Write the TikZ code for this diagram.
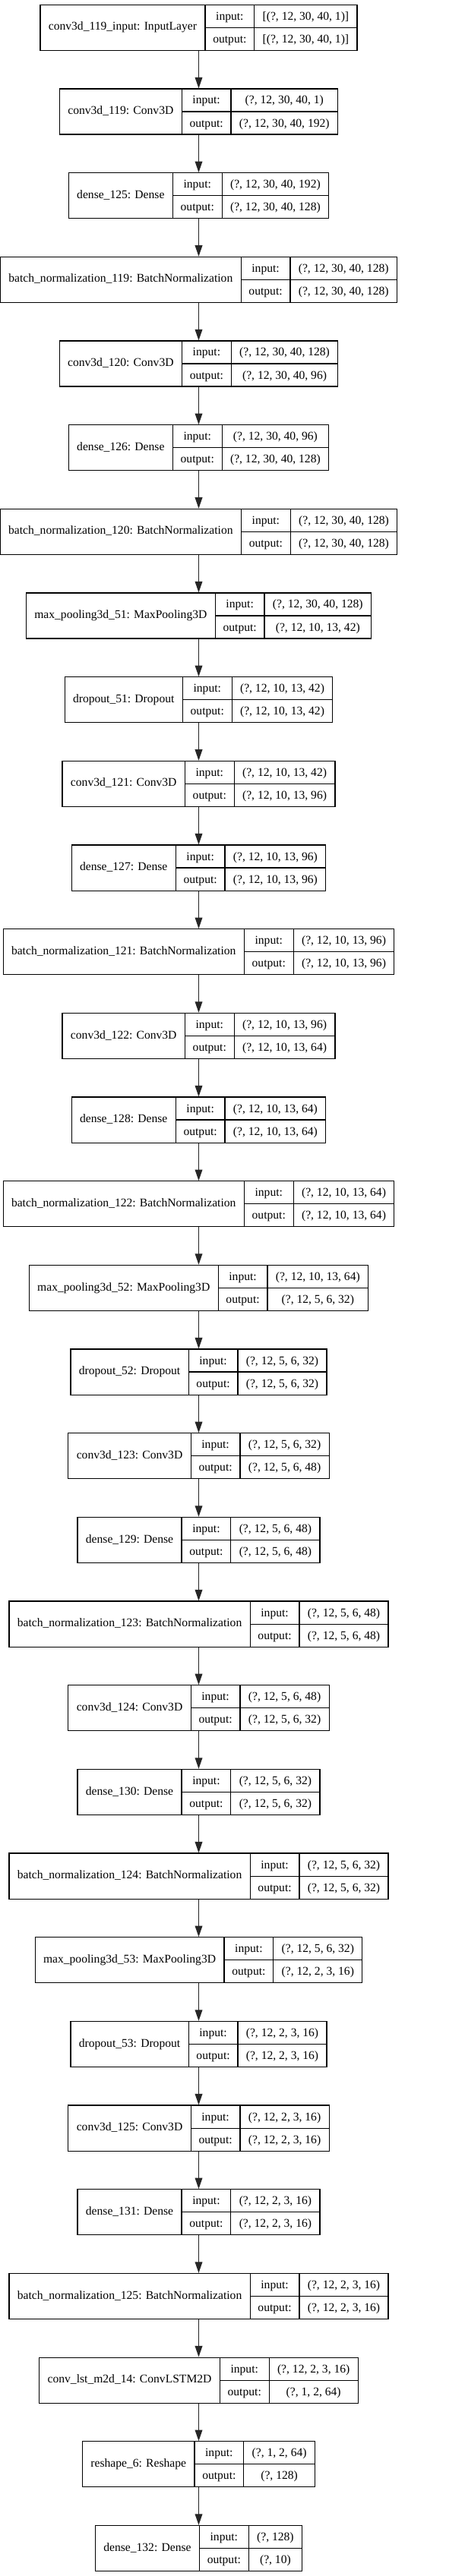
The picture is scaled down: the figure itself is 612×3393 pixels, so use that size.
\documentclass[tikz,border=0pt]{standalone}
\usepackage{fontspec}
\setmainfont{Liberation Serif}
\usepackage{tikz, array}
\usetikzlibrary{arrows.meta}
\usetikzlibrary{positioning}
\tikzset{node distance=49.37pt, auto}

\setlength{\arrayrulewidth}{1.2pt}
\setlength{\tabcolsep}{10.3pt}
\newcommand{\rowstrut}{\rule[-9.45pt]{0pt}{28.85pt}}
\newcommand{\layerbox}[3]{{\renewcommand{\arraystretch}{0}%
\begin{tabular}{|c|@{}c@{}|}
\hline
#1 &
\begin{tabular}{c|c}
\rowstrut\makebox[43pt]{input:} & #2 \\ \hline
\rowstrut\makebox[43pt]{output:} & #3
\end{tabular} \\
\hline
\end{tabular}}}

\begin{document}
\begin{tikzpicture}
\tikzset{
  layer/.style={inner sep=0pt, outer sep=0pt, font=\fontsize{15.6pt}{18pt}\selectfont},
  flow/.style={line width=1.2pt, draw=black!85, -{Triangle[length=14.5pt, width=9.7pt]}}
}

\useasboundingbox (0,0) rectangle (612pt,-3393pt);

\node[layer] (in119) at (261.5pt,-36.35pt) {\layerbox{conv3d\_119\_input: InputLayer}{[(?, 12, 30, 40, 1)]}{[(?, 12, 30, 40, 1)]}};
\node[layer, below=of in119] (c119) {\layerbox{conv3d\_119: Conv3D}{(?, 12, 30, 40, 1)}{(?, 12, 30, 40, 192)}};
\node[layer, below=of c119] (d125) {\layerbox{dense\_125: Dense}{(?, 12, 30, 40, 192)}{(?, 12, 30, 40, 128)}};
\node[layer, below=of d125] (bn119) {\layerbox{batch\_normalization\_119: BatchNormalization}{(?, 12, 30, 40, 128)}{(?, 12, 30, 40, 128)}};
\node[layer, below=of bn119] (c120) {\layerbox{conv3d\_120: Conv3D}{(?, 12, 30, 40, 128)}{(?, 12, 30, 40, 96)}};
\node[layer, below=of c120] (d126) {\layerbox{dense\_126: Dense}{(?, 12, 30, 40, 96)}{(?, 12, 30, 40, 128)}};
\node[layer, below=of d126] (bn120) {\layerbox{batch\_normalization\_120: BatchNormalization}{(?, 12, 30, 40, 128)}{(?, 12, 30, 40, 128)}};
\node[layer, below=of bn120] (mp51) {\layerbox{max\_pooling3d\_51: MaxPooling3D}{(?, 12, 30, 40, 128)}{(?, 12, 10, 13, 42)}};
\node[layer, below=of mp51] (do51) {\layerbox{dropout\_51: Dropout}{(?, 12, 10, 13, 42)}{(?, 12, 10, 13, 42)}};
\node[layer, below=of do51] (c121) {\layerbox{conv3d\_121: Conv3D}{(?, 12, 10, 13, 42)}{(?, 12, 10, 13, 96)}};
\node[layer, below=of c121] (d127) {\layerbox{dense\_127: Dense}{(?, 12, 10, 13, 96)}{(?, 12, 10, 13, 96)}};
\node[layer, below=of d127] (bn121) {\layerbox{batch\_normalization\_121: BatchNormalization}{(?, 12, 10, 13, 96)}{(?, 12, 10, 13, 96)}};
\node[layer, below=of bn121] (c122) {\layerbox{conv3d\_122: Conv3D}{(?, 12, 10, 13, 96)}{(?, 12, 10, 13, 64)}};
\node[layer, below=of c122] (d128) {\layerbox{dense\_128: Dense}{(?, 12, 10, 13, 64)}{(?, 12, 10, 13, 64)}};
\node[layer, below=of d128] (bn122) {\layerbox{batch\_normalization\_122: BatchNormalization}{(?, 12, 10, 13, 64)}{(?, 12, 10, 13, 64)}};
\node[layer, below=of bn122] (mp52) {\layerbox{max\_pooling3d\_52: MaxPooling3D}{(?, 12, 10, 13, 64)}{(?, 12, 5, 6, 32)}};
\node[layer, below=of mp52] (do52) {\layerbox{dropout\_52: Dropout}{(?, 12, 5, 6, 32)}{(?, 12, 5, 6, 32)}};
\node[layer, below=of do52] (c123) {\layerbox{conv3d\_123: Conv3D}{(?, 12, 5, 6, 32)}{(?, 12, 5, 6, 48)}};
\node[layer, below=of c123] (d129) {\layerbox{dense\_129: Dense}{(?, 12, 5, 6, 48)}{(?, 12, 5, 6, 48)}};
\node[layer, below=of d129] (bn123) {\layerbox{batch\_normalization\_123: BatchNormalization}{(?, 12, 5, 6, 48)}{(?, 12, 5, 6, 48)}};
\node[layer, below=of bn123] (c124) {\layerbox{conv3d\_124: Conv3D}{(?, 12, 5, 6, 48)}{(?, 12, 5, 6, 32)}};
\node[layer, below=of c124] (d130) {\layerbox{dense\_130: Dense}{(?, 12, 5, 6, 32)}{(?, 12, 5, 6, 32)}};
\node[layer, below=of d130] (bn124) {\layerbox{batch\_normalization\_124: BatchNormalization}{(?, 12, 5, 6, 32)}{(?, 12, 5, 6, 32)}};
\node[layer, below=of bn124] (mp53) {\layerbox{max\_pooling3d\_53: MaxPooling3D}{(?, 12, 5, 6, 32)}{(?, 12, 2, 3, 16)}};
\node[layer, below=of mp53] (do53) {\layerbox{dropout\_53: Dropout}{(?, 12, 2, 3, 16)}{(?, 12, 2, 3, 16)}};
\node[layer, below=of do53] (c125) {\layerbox{conv3d\_125: Conv3D}{(?, 12, 2, 3, 16)}{(?, 12, 2, 3, 16)}};
\node[layer, below=of c125] (d131) {\layerbox{dense\_131: Dense}{(?, 12, 2, 3, 16)}{(?, 12, 2, 3, 16)}};
\node[layer, below=of d131] (bn125) {\layerbox{batch\_normalization\_125: BatchNormalization}{(?, 12, 2, 3, 16)}{(?, 12, 2, 3, 16)}};
\node[layer, below=of bn125] (lstm14) {\layerbox{conv\_lst\_m2d\_14: ConvLSTM2D}{(?, 12, 2, 3, 16)}{(?, 1, 2, 64)}};
\node[layer, below=of lstm14] (rs6) {\layerbox{reshape\_6: Reshape}{(?, 1, 2, 64)}{(?, 128)}};
\node[layer, below=of rs6] (d132) {\layerbox{dense\_132: Dense}{(?, 128)}{(?, 10)}};

\draw[flow] (in119) -- (c119);
\draw[flow] (c119) -- (d125);
\draw[flow] (d125) -- (bn119);
\draw[flow] (bn119) -- (c120);
\draw[flow] (c120) -- (d126);
\draw[flow] (d126) -- (bn120);
\draw[flow] (bn120) -- (mp51);
\draw[flow] (mp51) -- (do51);
\draw[flow] (do51) -- (c121);
\draw[flow] (c121) -- (d127);
\draw[flow] (d127) -- (bn121);
\draw[flow] (bn121) -- (c122);
\draw[flow] (c122) -- (d128);
\draw[flow] (d128) -- (bn122);
\draw[flow] (bn122) -- (mp52);
\draw[flow] (mp52) -- (do52);
\draw[flow] (do52) -- (c123);
\draw[flow] (c123) -- (d129);
\draw[flow] (d129) -- (bn123);
\draw[flow] (bn123) -- (c124);
\draw[flow] (c124) -- (d130);
\draw[flow] (d130) -- (bn124);
\draw[flow] (bn124) -- (mp53);
\draw[flow] (mp53) -- (do53);
\draw[flow] (do53) -- (c125);
\draw[flow] (c125) -- (d131);
\draw[flow] (d131) -- (bn125);
\draw[flow] (bn125) -- (lstm14);
\draw[flow] (lstm14) -- (rs6);
\draw[flow] (rs6) -- (d132);
\end{tikzpicture}
\end{document}
